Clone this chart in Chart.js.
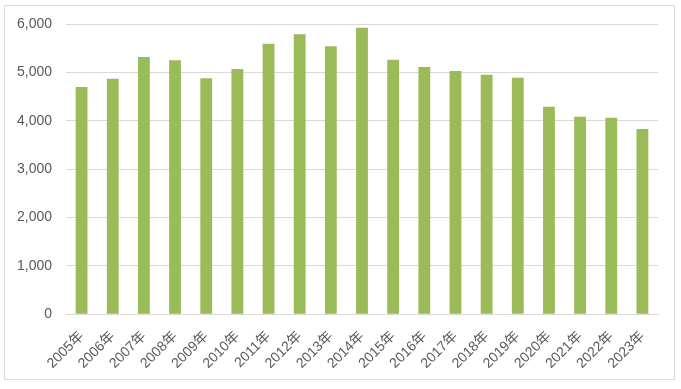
<!DOCTYPE html>
<html>
<head>
<meta charset="utf-8">
<script src="https://cdn.jsdelivr.net/npm/chart.js@4/dist/chart.umd.min.js"></script>
<style>
  html, body { margin: 0; padding: 0; background: #fff; }
  #wrap { width: 681px; height: 389px; position: relative; }
</style>
</head>
<body>
<div id="wrap"><canvas id="chart" width="681" height="389"></canvas></div>
<script>
const years = ['2005年', '2006年', '2007年', '2008年', '2009年', '2010年', '2011年', '2012年', '2013年', '2014年',
  '2015年', '2016年', '2017年', '2018年', '2019年', '2020年', '2021年', '2022年', '2023年'];
const counts = [4700, 4870, 5320, 5250, 4880, 5070, 5590, 5790, 5540, 5920,
  5260, 5110, 5030, 4950, 4890, 4290, 4080, 4060, 3830];
const yTicks = [0, 1000, 2000, 3000, 4000, 5000, 6000];

const fontFamily = '"Liberation Sans", "Noto Sans CJK JP", sans-serif';
const textColor = '#595959';

// outer frame like the Excel chart area
const framePlugin = {
  id: 'frame',
  beforeDraw (chart) {
    const ctx = chart.ctx;
    ctx.save();
    ctx.fillStyle = '#fff';
    ctx.fillRect(0, 0, chart.width, chart.height);
    ctx.strokeStyle = '#d9d9d9';
    ctx.lineWidth = 1;
    ctx.strokeRect(4.5, 5.5, 670, 374);
    ctx.restore();
  }
};

new Chart(document.getElementById('chart'), {
  type: 'bar',
  data: {
    labels: years,
    datasets: [{
      data: counts,
      backgroundColor: '#9bbb59',
      categoryPercentage: 1,
      barPercentage: 0.38
    }]
  },
  options: {
    responsive: false,
    animation: false,
    layout: { padding: { left: 0, right: 23, top: 24, bottom: 11 } },
    plugins: {
      legend: { display: false },
      tooltip: { enabled: false }
    },
    scales: {
      x: {
        grid: { display: false },
        border: { display: true, color: '#d9d9d9' },
        ticks: {
          color: textColor,
          font: { family: fontFamily, size: 14 },
          minRotation: 45,
          maxRotation: 45,
          padding: 6
        },
        afterFit (scale) {
          // rotated first label fits inside the y axis area
          scale.paddingLeft = 0;
        }
      },
      y: {
        min: 0,
        max: 6000,
        afterBuildTicks (scale) {
          scale.ticks = yTicks.map(v => ({ value: v }));
        },
        afterFit (scale) {
          scale.width = 66;
        },
        grid: { color: '#d9d9d9', drawTicks: false },
        border: { display: false },
        ticks: {
          color: textColor,
          font: { family: fontFamily, size: 14 },
          padding: 14,
          callback: v => v.toLocaleString('en-US')
        }
      }
    }
  },
  plugins: [framePlugin]
});
</script>
</body>
</html>
